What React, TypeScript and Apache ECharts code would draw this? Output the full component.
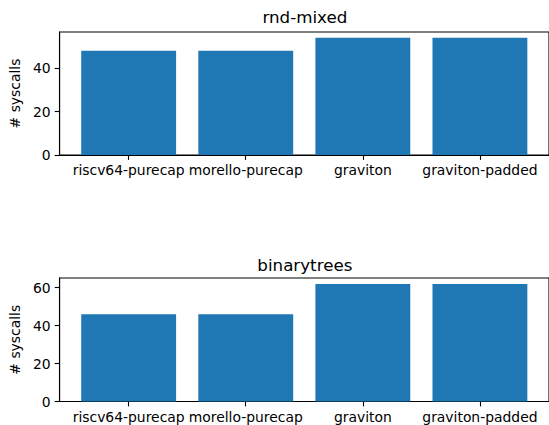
import React, { useEffect, useRef } from "react";
import * as echarts from "echarts";

const categories = ["riscv64-purecap", "morello-purecap", "graviton", "graviton-padded"];
const rndMixedValues = [48, 48, 54, 54];
const binarytreesValues = [46, 46, 62, 62];
const rndMixedTicks = [0, 20, 40];
const binarytreesTicks = [0, 20, 40, 60];
const titles = ["rnd-mixed", "binarytrees"];
const yAxisName = "# syscalls";

const W = 549;
const H = 425;
const FONT = "DejaVu Sans";
const BLUE = "#1f77b4";

export default function App() {
  const ref = useRef<HTMLDivElement>(null);

  useEffect(() => {
    if (!ref.current) return;
    const chart = echarts.init(ref.current, null, { renderer: "svg", width: W, height: H });

    const gridLeft = 57;
    const gridRightEdge = 552.7;
    const xMin = -0.59;
    const xMax = 3.59;
    const pxPerUnit = (gridRightEdge - gridLeft) / (xMax - xMin);
    const barWidth = 0.8 * pxPerUnit;
    const grids = [
      { left: gridLeft, right: W - gridRightEdge, top: 32, height: 123 },
      { left: gridLeft, right: W - gridRightEdge, top: 278, height: 123.5 },
    ];
    const seriesValues = [rndMixedValues, binarytreesValues];
    const yTicks = [rndMixedTicks, binarytreesTicks];
    const xIdx = categories.map((_, i) => i);

    const option: any = {
      animation: false,
      backgroundColor: "#ffffff",
      grid: grids.map((g) => ({
        ...g,
        show: true,
        borderColor: "#000",
        borderWidth: 1.1,
        backgroundColor: "transparent",
        containLabel: false,
      })),
      xAxis: grids.map((_, gi) => ({
        type: "value",
        gridIndex: gi,
        min: xMin,
        max: xMax,
        splitLine: { show: false },
        axisLine: { show: true, onZero: false, lineStyle: { color: "#000", width: 1.1 } },
        axisTick: {
          show: true,
          customValues: xIdx,
          length: 4.9,
          lineStyle: { color: "#000", width: 1.1 },
        },
        axisLabel: {
          customValues: xIdx,
          formatter: (v: number) => categories[Math.round(v)] ?? "",
          color: "#000",
          fontFamily: FONT,
          fontSize: 13.9,
          margin: 8,
        },
      })),
      yAxis: grids.map((_, gi) => {
        const vals = seriesValues[gi];
        const mx = Math.max(...vals) * 1.05;
        return {
          type: "value",
          gridIndex: gi,
          min: 0,
          max: mx,
          name: yAxisName,
          nameLocation: "middle",
          nameGap: 34,
          nameRotate: 90,
          nameTextStyle: { color: "#000", fontFamily: FONT, fontSize: 13.9 },
          splitLine: { show: false },
          axisLine: { show: true, onZero: false, lineStyle: { color: "#000", width: 1.1 } },
          axisTick: {
            show: true,
            customValues: yTicks[gi],
            length: 4.9,
            lineStyle: { color: "#000", width: 1.1 },
          },
          axisLabel: {
            customValues: yTicks[gi],
            color: "#000",
            fontFamily: FONT,
            fontSize: 13.9,
            margin: 9,
          },
        };
      }),
      series: seriesValues.map((vals, gi) => ({
        type: "bar",
        xAxisIndex: gi,
        yAxisIndex: gi,
        barWidth,
        itemStyle: { color: BLUE },
        data: vals.map((v, i) => [xIdx[i], v]),
      })),
      graphic: titles.map((t, gi) => ({
        type: "text",
        x: (gridLeft + gridRightEdge) / 2,
        y: gi === 0 ? 17 : 265,
        style: {
          text: t,
          fill: "#000",
          fontFamily: FONT,
          fontSize: 16.7,
          textAlign: "center",
          textVerticalAlign: "middle",
        },
      })),
    };

    chart.setOption(option);
    return () => chart.dispose();
  }, []);

  return (
    <div
      ref={ref}
      style={{ position: "fixed", left: 0, top: 0, width: W, height: H, overflow: "hidden", background: "#fff" }}
    />
  );
}
